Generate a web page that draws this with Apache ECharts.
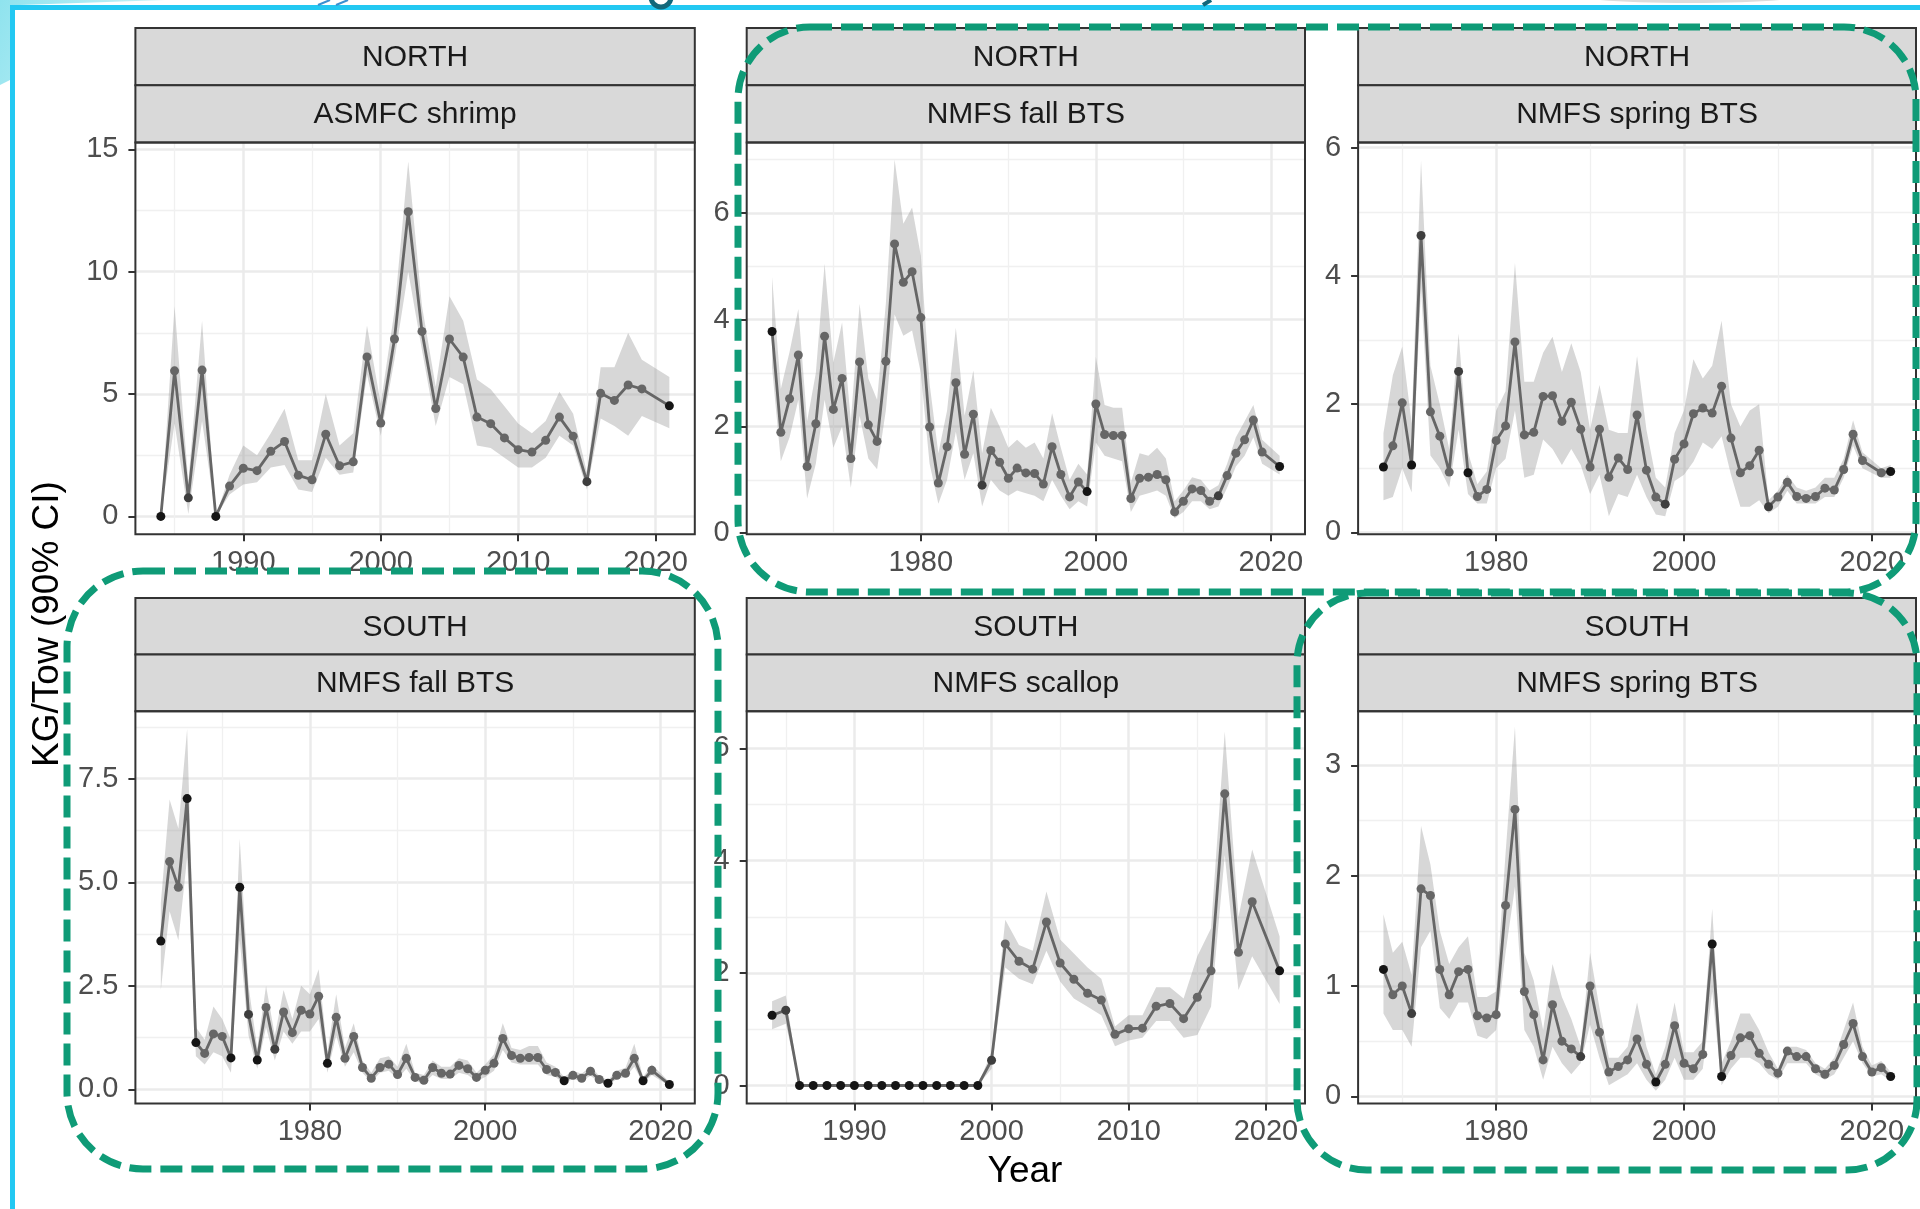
<!DOCTYPE html>
<html>
<head>
<meta charset="utf-8">
<script src="https://cdn.jsdelivr.net/npm/echarts@6/dist/echarts.min.js"></script>
<style>html,body{margin:0;padding:0;background:#fff;}#chart{width:1920px;height:1209px;}</style>
</head>
<body>
<div id="chart"></div>
<script>
// ---------------- DATA ----------------
// Panel 1: NORTH / ASMFC shrimp
const shrimpYears = [1984,1985,1986,1987,1988,1989,1990,1991,1992,1993,1994,1995,1996,1997,1998,1999,2000,2001,2002,2003,2004,2005,2006,2007,2008,2009,2010,2011,2012,2013,2014,2015,2016,2017,2018,2019,2021];
const shrimpMean  = [0,5.95,0.76,5.98,0,1.24,1.97,1.87,2.66,3.06,1.68,1.5,3.36,2.07,2.23,6.52,3.82,7.25,12.45,7.56,4.41,7.25,6.51,4.06,3.79,3.21,2.73,2.63,3.11,4.06,3.28,1.42,5.03,4.74,5.37,5.21,4.52];
const shrimpLo    = [0,3.8,0.1,3.9,0,0.9,1.3,1.4,2.0,2.1,1.1,1.0,2.4,1.7,1.8,5.8,3.3,6.4,10.0,6.8,3.7,5.7,5.4,2.9,2.8,2.4,2.0,2.0,2.4,3.3,2.9,1.1,4.0,3.7,3.3,4.1,3.6];
const shrimpHi    = [0,8.6,1.4,8.0,0,1.7,2.9,2.5,3.4,4.4,2.3,2.3,5.0,2.9,3.4,7.8,4.6,8.4,14.5,8.6,5.3,9.0,8.0,5.6,5.2,4.5,3.8,3.4,3.9,5.1,4.2,1.8,6.1,6.1,7.5,6.4,5.7];
const shrimpBlack = [1984,1988,2021];
const shrimpDark  = [1986,2015];

// Panel 2: NORTH / NMFS fall BTS
const nFallYears = [1963,1964,1965,1966,1967,1968,1969,1970,1971,1972,1973,1974,1975,1976,1977,1978,1979,1980,1981,1982,1983,1984,1985,1986,1987,1988,1989,1990,1991,1992,1993,1994,1995,1996,1997,1998,1999,2000,2001,2002,2003,2004,2005,2006,2007,2008,2009,2010,2011,2012,2013,2014,2015,2016,2017,2018,2019,2021];
const nFallMean  = [3.78,1.89,2.52,3.34,1.25,2.05,3.69,2.32,2.9,1.4,3.21,2.03,1.72,3.22,5.42,4.7,4.9,4.04,1.99,0.94,1.62,2.82,1.48,2.23,0.9,1.55,1.33,1.03,1.22,1.13,1.12,0.92,1.62,1.1,0.68,0.96,0.78,2.42,1.85,1.83,1.83,0.65,1.03,1.05,1.1,1.0,0.4,0.6,0.83,0.8,0.6,0.7,1.08,1.5,1.75,2.12,1.52,1.25];
const nFallLo    = [3.1,1.35,1.8,2.5,0.65,1.3,2.5,1.6,2.0,0.85,2.2,1.4,1.2,2.3,4.1,3.7,3.8,3.0,1.3,0.55,1.0,1.9,1.0,1.5,0.5,1.0,0.8,0.7,0.8,0.75,0.7,0.6,1.0,0.7,0.45,0.6,0.5,1.7,1.45,1.4,1.35,0.4,0.7,0.75,0.8,0.7,0.28,0.4,0.6,0.6,0.45,0.5,0.85,1.25,1.45,1.8,1.3,1.1];
const nFallHi    = [4.8,2.7,3.4,4.2,2.1,3.0,5.05,3.2,3.95,2.1,4.3,2.9,2.5,4.3,7.0,5.8,6.1,5.2,2.8,1.5,2.3,3.85,2.2,3.05,1.5,2.35,2.0,1.6,1.75,1.6,1.7,1.4,2.25,1.6,1.0,1.3,1.1,3.3,2.4,2.35,2.35,0.95,1.5,1.45,1.6,1.4,0.6,0.8,1.05,1.0,0.8,0.9,1.3,1.8,2.1,2.4,1.75,1.45];
const nFallBlack = [1963,1999,2021];
const nFallDark  = [1987,2014];

// Panel 3: NORTH / NMFS spring BTS
const nSpringYears = [1968,1969,1970,1971,1972,1973,1974,1975,1976,1977,1978,1979,1980,1981,1982,1983,1984,1985,1986,1987,1988,1989,1990,1991,1992,1993,1994,1995,1996,1997,1998,1999,2000,2001,2002,2003,2004,2005,2006,2007,2008,2009,2010,2011,2012,2013,2014,2015,2016,2017,2018,2019,2021,2022];
const nSpringMean  = [1.02,1.35,2.02,1.05,4.63,1.88,1.5,0.94,2.51,0.93,0.56,0.67,1.43,1.66,2.97,1.52,1.56,2.12,2.13,1.73,2.03,1.61,1.02,1.61,0.86,1.16,0.98,1.83,0.97,0.55,0.44,1.14,1.38,1.85,1.94,1.86,2.28,1.47,0.93,1.04,1.28,0.4,0.55,0.78,0.56,0.53,0.56,0.69,0.66,0.98,1.53,1.12,0.93,0.95];
const nSpringLo    = [0.5,0.55,1.0,0.62,3.8,1.2,1.0,0.7,1.6,0.6,0.45,0.45,1.0,1.15,1.9,0.85,0.9,1.45,1.3,1.05,1.3,1.05,0.6,0.9,0.25,0.6,0.55,0.9,0.55,0.28,0.25,0.8,0.9,1.1,1.4,1.3,1.5,0.9,0.4,0.4,0.5,0.3,0.4,0.65,0.45,0.45,0.45,0.55,0.55,0.85,1.35,1.0,0.85,0.85];
const nSpringHi    = [1.55,2.45,2.9,1.7,5.8,2.6,2.0,1.3,3.1,1.25,0.75,0.95,1.9,2.2,4.2,2.35,2.35,2.8,3.05,2.5,2.95,2.5,1.6,2.3,1.6,1.55,1.55,2.75,1.6,0.85,0.7,1.55,1.9,2.7,2.4,2.6,3.3,2.0,1.65,1.9,2.0,0.5,0.65,0.9,0.7,0.65,0.7,0.85,0.85,1.15,1.75,1.25,1.0,1.05];
const nSpringBlack = [1968,1971,1977,2022];
const nSpringDark  = [1972,1976,1998,2009];

// Panel 4: SOUTH / NMFS fall BTS
const sFallYears = [1963,1964,1965,1966,1967,1968,1969,1970,1971,1972,1973,1974,1975,1976,1977,1978,1979,1980,1981,1982,1983,1984,1985,1986,1987,1988,1989,1990,1991,1992,1993,1994,1995,1996,1997,1998,1999,2000,2001,2002,2003,2004,2005,2006,2007,2008,2009,2010,2011,2012,2013,2014,2015,2016,2017,2018,2019,2021];
const sFallMean  = [3.58,5.5,4.88,7.02,1.13,0.87,1.34,1.28,0.76,4.88,1.81,0.71,1.98,0.97,1.87,1.37,1.91,1.82,2.25,0.63,1.74,0.75,1.28,0.53,0.27,0.53,0.61,0.36,0.75,0.29,0.22,0.53,0.39,0.37,0.58,0.5,0.29,0.46,0.63,1.23,0.82,0.75,0.77,0.77,0.48,0.41,0.21,0.34,0.27,0.44,0.24,0.15,0.34,0.39,0.75,0.21,0.46,0.12];
const sFallLo    = [2.4,4.3,3.6,5.6,0.8,0.6,0.9,0.8,0.4,3.6,1.3,0.5,1.5,0.7,1.4,1.1,1.4,1.4,1.7,0.4,1.3,0.55,0.9,0.4,0.18,0.4,0.45,0.25,0.5,0.2,0.15,0.35,0.25,0.25,0.4,0.35,0.2,0.3,0.45,0.95,0.65,0.6,0.6,0.6,0.35,0.3,0.15,0.25,0.2,0.33,0.17,0.1,0.25,0.3,0.55,0.15,0.35,0.08];
const sFallHi    = [4.5,7.0,6.3,8.7,1.5,1.2,2.0,1.7,1.2,6.05,2.5,1.0,2.5,1.3,2.4,1.7,2.5,2.3,2.9,0.9,2.3,1.0,1.6,0.7,0.4,0.75,0.8,0.55,1.1,0.4,0.35,0.7,0.55,0.55,0.75,0.7,0.4,0.6,0.85,1.6,1.0,0.95,1.05,1.05,0.65,0.55,0.3,0.45,0.38,0.56,0.33,0.22,0.45,0.52,1.1,0.3,0.6,0.18];
const sFallBlack = [1963,1966,1967,1971,1972,1974,1982,2009,2014,2018,2021];
const sFallDark  = [1973,1976];

// Panel 5: SOUTH / NMFS scallop
const scallopYears = [1984,1985,1986,1987,1988,1989,1990,1991,1992,1993,1994,1995,1996,1997,1998,1999,2000,2001,2002,2003,2004,2005,2006,2007,2008,2009,2010,2011,2012,2013,2014,2015,2016,2017,2018,2019,2021];
const scallopMean  = [1.25,1.34,0,0,0,0,0,0,0,0,0,0,0,0,0,0,0.45,2.52,2.21,2.07,2.91,2.18,1.89,1.64,1.52,0.91,1.01,1.02,1.41,1.46,1.19,1.57,2.04,5.19,2.37,3.27,2.04];
const scallopLo    = [1.0,1.1,0,0,0,0,0,0,0,0,0,0,0,0,0,0,0.3,2.1,1.9,1.8,2.4,1.85,1.55,1.4,1.25,0.7,0.8,0.85,1.15,1.15,0.85,0.9,1.4,4.1,1.7,2.3,1.45];
const scallopHi    = [1.5,1.6,0,0,0,0,0,0,0,0,0,0,0,0,0,0,0.6,2.95,2.5,2.4,3.45,2.6,2.35,2.1,1.9,1.05,1.25,1.25,1.75,1.75,1.55,2.3,2.8,6.3,3.0,4.2,2.65];
const scallopBlack = [1984,1986,1987,1988,1989,1990,1991,1992,1993,1994,1995,1996,1997,1998,1999,2021];
const scallopDark  = [1985,2000];

// Panel 6: SOUTH / NMFS spring BTS
const sSpringYears = [1968,1969,1970,1971,1972,1973,1974,1975,1976,1977,1978,1979,1980,1981,1982,1983,1984,1985,1986,1987,1988,1989,1990,1991,1992,1993,1994,1995,1996,1997,1998,1999,2000,2001,2002,2003,2004,2005,2006,2007,2008,2009,2010,2011,2012,2013,2014,2015,2016,2017,2018,2019,2020,2021,2022];
const sSpringMean  = [1.15,0.92,1.0,0.75,1.88,1.82,1.15,0.92,1.13,1.15,0.73,0.71,0.74,1.73,2.6,0.95,0.74,0.33,0.83,0.5,0.43,0.36,1.0,0.58,0.22,0.27,0.33,0.52,0.29,0.13,0.29,0.64,0.3,0.25,0.38,1.38,0.18,0.37,0.53,0.55,0.39,0.29,0.21,0.41,0.36,0.36,0.25,0.2,0.28,0.47,0.66,0.36,0.22,0.26,0.18];
const sSpringLo    = [0.75,0.6,0.6,0.45,1.35,1.5,0.8,0.7,0.85,0.85,0.55,0.52,0.6,1.3,1.9,0.6,0.45,0.15,0.45,0.3,0.2,0.3,0.65,0.35,0.1,0.15,0.2,0.3,0.15,0.05,0.15,0.35,0.15,0.15,0.25,0.95,0.1,0.25,0.35,0.35,0.3,0.2,0.15,0.3,0.3,0.3,0.2,0.15,0.2,0.35,0.5,0.3,0.18,0.2,0.14];
const sSpringHi    = [1.65,1.3,1.4,1.1,2.45,2.1,1.5,1.2,1.35,1.45,0.9,0.9,0.95,2.2,3.35,1.3,1.05,0.6,1.2,0.9,0.7,0.45,1.3,0.8,0.35,0.35,0.45,0.85,0.45,0.2,0.45,0.85,0.4,0.4,0.5,1.7,0.3,0.5,0.75,0.75,0.6,0.4,0.25,0.45,0.45,0.42,0.3,0.25,0.35,0.6,0.85,0.45,0.28,0.32,0.22];
const sSpringBlack = [1968,1997,2003,2004,2022];
const sSpringDark  = [1971,1989];

// Axis ranges and tick labels
const xRange84 = [1982.15, 2022.85];
const xRange63 = [1960.1, 2023.9];
const xRange68 = [1965.3, 2024.7];
const xTicks84 = [1990, 2000, 2010, 2020];
const xMinor84 = [1985, 1995, 2005, 2015];
const xTicks20 = [1980, 2000, 2020];
const xMinor20 = [1970, 1990, 2010];

const shrimpYRange = [-0.73, 15.28];   const shrimpYTicks = [0, 5, 10, 15];      const shrimpYMinor = [2.5, 7.5, 12.5];
const nFallYRange = [-0.02, 7.32];     const nFallYTicks = [0, 2, 4, 6];          const nFallYMinor = [1, 3, 5, 7];
const nSpringYRange = [-0.03, 6.08];   const nSpringYTicks = [0, 2, 4, 6];        const nSpringYMinor = [1, 3, 5];
const sFallYRange = [-0.34, 9.13];     const sFallYTicks = [0, 2.5, 5, 7.5];      const sFallYMinor = [1.25, 3.75, 6.25, 8.75];
const scallopYRange = [-0.32, 6.66];   const scallopYTicks = [0, 2, 4, 6];        const scallopYMinor = [1, 3, 5];
const sSpringYRange = [-0.065, 3.49];  const sSpringYTicks = [0, 1, 2, 3];        const sSpringYMinor = [0.5, 1.5, 2.5];

const stripRegion = ['NORTH', 'NORTH', 'NORTH', 'SOUTH', 'SOUTH', 'SOUTH'];
const stripSurvey = ['ASMFC shrimp', 'NMFS fall BTS', 'NMFS spring BTS', 'NMFS fall BTS', 'NMFS scallop', 'NMFS spring BTS'];
const yTitle = 'KG/Tow (90% CI)';
const xTitle = 'Year';

// ---------------- LAYOUT ----------------
const FONT = "'Liberation Sans', Arial, Helvetica, sans-serif";
const COLS = [{x: 135.4, w: 559.4}, {x: 746.7, w: 558.3}, {x: 1358.1, w: 557.9}];
const ROWS = [{strip: 27.9, top: 142.5, h: 391.8}, {strip: 598, top: 711.2, h: 392.3}];
const BLACK = '#151515', DARK = '#3e3e3e', GREY = '#666666';

const panels = [
  {row: 0, col: 0, years: shrimpYears, mean: shrimpMean, lo: shrimpLo, hi: shrimpHi, black: shrimpBlack, dark: shrimpDark, xr: xRange84, xt: xTicks84, xm: xMinor84, yr: shrimpYRange, yt: shrimpYTicks, ym: shrimpYMinor},
  {row: 0, col: 1, years: nFallYears, mean: nFallMean, lo: nFallLo, hi: nFallHi, black: nFallBlack, dark: nFallDark, xr: xRange63, xt: xTicks20, xm: xMinor20, yr: nFallYRange, yt: nFallYTicks, ym: nFallYMinor},
  {row: 0, col: 2, years: nSpringYears, mean: nSpringMean, lo: nSpringLo, hi: nSpringHi, black: nSpringBlack, dark: nSpringDark, xr: xRange68, xt: xTicks20, xm: xMinor20, yr: nSpringYRange, yt: nSpringYTicks, ym: nSpringYMinor},
  {row: 1, col: 0, years: sFallYears, mean: sFallMean, lo: sFallLo, hi: sFallHi, black: sFallBlack, dark: sFallDark, xr: xRange63, xt: xTicks20, xm: xMinor20, yr: sFallYRange, yt: sFallYTicks, ym: sFallYMinor, fmt: v => Number(v).toFixed(1)},
  {row: 1, col: 1, years: scallopYears, mean: scallopMean, lo: scallopLo, hi: scallopHi, black: scallopBlack, dark: scallopDark, xr: xRange84, xt: xTicks84, xm: xMinor84, yr: scallopYRange, yt: scallopYTicks, ym: scallopYMinor},
  {row: 1, col: 2, years: sSpringYears, mean: sSpringMean, lo: sSpringLo, hi: sSpringHi, black: sSpringBlack, dark: sSpringDark, xr: xRange68, xt: xTicks20, xm: xMinor20, yr: sSpringYRange, yt: sSpringYTicks, ym: sSpringYMinor}
];

function makePieces(p) {
  const out = [];
  p.years.forEach((y, k) => {
    const col = p.black.includes(y) ? BLACK : (p.dark.includes(y) ? DARK : null);
    if (!col) return;
    const next = k + 1 < p.years.length ? p.years[k + 1] : y + 1;
    out.push({gte: y - 0.01, lt: next - 0.01, color: col});
  });
  return out;
}

const grid = [], xAxis = [], yAxis = [], series = [], visualMap = [], graphic = [];
const tickStyle = {color: '#333333', width: 2};
const labelBase = {fontSize: 29, color: '#4D4D4D', fontFamily: FONT};

panels.forEach((p, i) => {
  const c = COLS[p.col], r = ROWS[p.row];
  grid.push({left: c.x, top: r.top, width: c.w, height: r.h, containLabel: false, outerBoundsMode: 'none', show: false});
  // major x
  xAxis.push({type: 'value', gridIndex: i, min: p.xr[0], max: p.xr[1], position: 'bottom',
    axisLine: {show: false, onZero: false},
    axisTick: {show: true, length: 7, lineStyle: tickStyle, customValues: p.xt},
    axisLabel: Object.assign({margin: 14, customValues: p.xt, formatter: v => String(Math.round(v))}, labelBase),
    splitLine: {show: true, lineStyle: {color: '#EBEBEB', width: 2.5}}});
  // minor x
  xAxis.push({type: 'value', gridIndex: i, min: p.xr[0], max: p.xr[1], position: 'top',
    axisLine: {show: false, onZero: false},
    axisTick: {show: false, customValues: p.xm},
    axisLabel: {show: false},
    splitLine: {show: true, lineStyle: {color: '#F0F0F0', width: 1.3}}});
  // major y
  yAxis.push({type: 'value', gridIndex: i, min: p.yr[0], max: p.yr[1], position: 'left',
    axisLine: {show: false, onZero: false},
    axisTick: {show: true, length: 7, lineStyle: tickStyle, customValues: p.yt},
    axisLabel: Object.assign({margin: 17, customValues: p.yt, formatter: p.fmt || (v => String(v))}, labelBase),
    splitLine: {show: true, lineStyle: {color: '#EBEBEB', width: 2.5}}});
  // minor y
  yAxis.push({type: 'value', gridIndex: i, min: p.yr[0], max: p.yr[1], position: 'right',
    axisLine: {show: false, onZero: false},
    axisTick: {show: false, customValues: p.ym},
    axisLabel: {show: false},
    splitLine: {show: true, lineStyle: {color: '#F0F0F0', width: 1.3}}});

  // ribbon (90% CI)
  series.push({
    type: 'custom', xAxisIndex: 2 * i, yAxisIndex: 2 * i, z: 1, silent: true, clip: true,
    data: p.years.map((y, k) => [y, p.lo[k], p.hi[k]]),
    encode: {x: 0, y: [1, 2]},
    renderItem: function (params, api) {
      if (params.dataIndex !== 0) return null;
      const pts = [];
      for (let k = 0; k < p.years.length; k++) pts.push(api.coord([p.years[k], p.hi[k]]));
      for (let k = p.years.length - 1; k >= 0; k--) pts.push(api.coord([p.years[k], p.lo[k]]));
      return {type: 'polygon', shape: {points: pts}, style: {fill: 'rgba(150,150,150,0.38)', stroke: null}};
    }
  });
  // mean line + points
  series.push({
    type: 'line', xAxisIndex: 2 * i, yAxisIndex: 2 * i, z: 3, silent: true,
    data: p.years.map((y, k) => [y, p.mean[k]]),
    symbol: 'circle', symbolSize: 9, showSymbol: true, showAllSymbol: true,
    lineStyle: {width: 2.8, color: GREY},
    itemStyle: {color: GREY},
    emphasis: {disabled: true}
  });
  visualMap.push({type: 'piecewise', show: false, seriesIndex: 2 * i + 1, dimension: 0,
    pieces: makePieces(p), outOfRange: {color: GREY}});

  // strips
  const sh = (r.top - r.strip) / 2;
  graphic.push({type: 'rect', z: 20, shape: {x: c.x, y: r.strip, width: c.w, height: sh},
    style: {fill: '#D9D9D9', stroke: '#333333', lineWidth: 2}});
  graphic.push({type: 'rect', z: 20, shape: {x: c.x, y: r.strip + sh, width: c.w, height: sh},
    style: {fill: '#D9D9D9', stroke: '#333333', lineWidth: 2}});
  graphic.push({type: 'text', z: 21, x: c.x + c.w / 2, y: r.strip + sh / 2 + 1,
    style: {text: stripRegion[i], fontSize: 30, fontFamily: FONT, fill: '#1A1A1A', align: 'center', verticalAlign: 'middle'}});
  graphic.push({type: 'text', z: 21, x: c.x + c.w / 2, y: r.strip + sh * 1.5 + 1,
    style: {text: stripSurvey[i], fontSize: 30, fontFamily: FONT, fill: '#1A1A1A', align: 'center', verticalAlign: 'middle'}});
  // panel border
  graphic.push({type: 'rect', z: 20, shape: {x: c.x, y: r.top, width: c.w, height: r.h},
    style: {fill: 'none', stroke: '#333333', lineWidth: 2}});
});

// axis titles
graphic.push({type: 'text', z: 21, x: 48, y: 624, rotation: Math.PI / 2,
  style: {text: yTitle, fontSize: 37, fontFamily: FONT, fill: '#000', align: 'center', verticalAlign: 'middle'}});
graphic.push({type: 'text', z: 21, x: 1025, y: 1172,
  style: {text: xTitle, fontSize: 37, fontFamily: FONT, fill: '#000', align: 'center', verticalAlign: 'middle'}});

// slide frame decorations
graphic.push({type: 'polygon', z: 5, shape: {points: [[0, 0], [165, 0], [20, 5], [10, 5], [10, 80], [0, 85]]},
  style: {fill: new echarts.graphic.LinearGradient(0, 0, 1, 1, [{offset: 0, color: '#8fe3ee'}, {offset: 1, color: '#d6f5f9'}])}});
graphic.push({type: 'rect', z: 6, shape: {x: 10, y: 5, width: 1910, height: 5}, style: {fill: '#22C8F2'}});
graphic.push({type: 'rect', z: 6, shape: {x: 10, y: 5, width: 5, height: 1204}, style: {fill: '#22C8F2'}});
graphic.push({type: 'line', z: 6, shape: {x1: 318, y1: 5, x2: 330, y2: 0}, style: {stroke: '#3a8fd0', lineWidth: 2}});
graphic.push({type: 'line', z: 6, shape: {x1: 336, y1: 5, x2: 348, y2: 0}, style: {stroke: '#3a8fd0', lineWidth: 2}});
graphic.push({type: 'arc', z: 6, shape: {cx: 661, cy: -3, r: 10, startAngle: 0, endAngle: Math.PI}, style: {stroke: '#12677a', lineWidth: 5, fill: 'none'}});
graphic.push({type: 'line', z: 6, shape: {x1: 1203, y1: 5, x2: 1211, y2: 0}, style: {stroke: '#12677a', lineWidth: 4}});
graphic.push({type: 'ellipse', z: 4, shape: {cx: 1690, cy: -5, rx: 115, ry: 8}, style: {fill: '#dcdcdc'}});

// green dashed highlight boxes
const dashStyle = {fill: 'none', stroke: '#0F9B77', lineWidth: 7, lineDash: [22, 9]};
graphic.push({type: 'rect', z: 50, shape: {x: 738, y: 27, width: 1178, height: 565, r: 72}, style: dashStyle});
graphic.push({type: 'rect', z: 50, shape: {x: 67, y: 571, width: 651, height: 598, r: 76}, style: dashStyle});
graphic.push({type: 'rect', z: 50, shape: {x: 1297, y: 593, width: 620, height: 577, r: 70}, style: dashStyle});

const chart = echarts.init(document.getElementById('chart'), null, {renderer: 'canvas'});
chart.setOption({
  animation: false,
  backgroundColor: '#ffffff',
  grid, xAxis, yAxis, series, visualMap, graphic
});
</script>
</body>
</html>
